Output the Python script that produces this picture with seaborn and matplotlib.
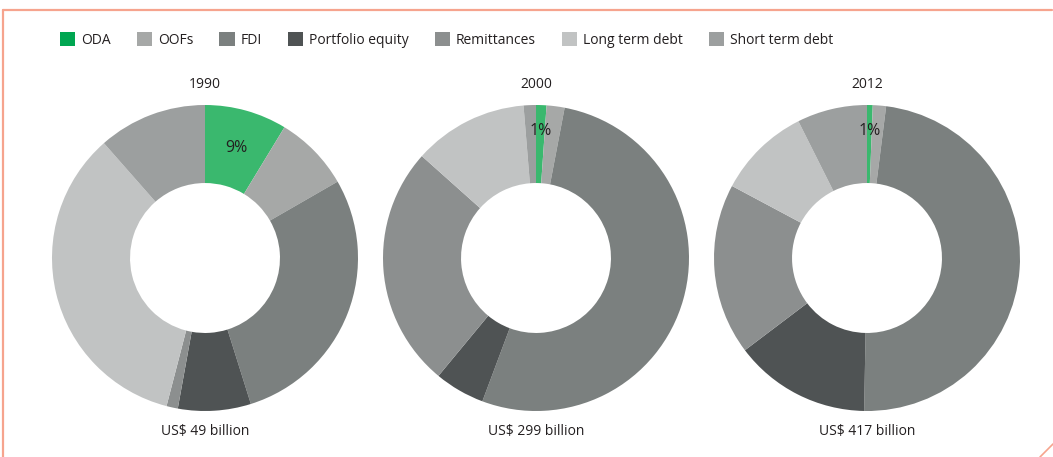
import numpy as np
import matplotlib
matplotlib.use("Agg")
import matplotlib.pyplot as plt
import seaborn as sns
from matplotlib.patches import Patch
from matplotlib.lines import Line2D

sns.set_theme(style="white")
plt.rcParams['font.family'] = ['Open Sans', 'DejaVu Sans']

categories = ["ODA", "OOFs", "FDI", "Portfolio equity", "Remittances",
              "Long term debt", "Short term debt"]
colors = ["#3ab86e", "#a6a8a7", "#7b807f", "#4f5354", "#8c8f8f", "#c1c3c3", "#9c9f9f"]
legend_colors = ["#00a651", "#a6a8a7", "#7b807f", "#4f5354", "#8c8f8f", "#c1c3c3", "#9c9f9f"]

years = ["1990", "2000", "2012"]
totals = ["US$ 49 billion", "US$ 299 billion", "US$ 417 billion"]
shares_1990 = [8.7, 8.0, 28.5, 7.7, 1.2, 34.5, 11.5]
shares_2000 = [1.1, 1.9, 52.7, 5.3, 25.6, 12.1, 1.3]
shares_2012 = [0.6, 1.4, 48.3, 14.4, 18.1, 9.8, 7.4]
oda_labels = ["9%", "1%", "1%"]
all_shares = [shares_1990, shares_2000, shares_2012]

W, H = 1053, 457
fig = plt.figure(figsize=(W / 100, H / 100), dpi=100)

centers_x = [205, 536, 867]
cy = 258
R = 153
text_color = "#231f20"

for cx, year, total, shares, lab in zip(centers_x, years, totals, all_shares, oda_labels):
    ax = fig.add_axes([(cx - R) / W, (H - cy - R) / H, 2 * R / W, 2 * R / H])
    vals = np.array(shares, dtype=float)
    wedges, _ = ax.pie(vals, colors=colors, startangle=90, counterclock=False,
                       radius=1.0, wedgeprops=dict(width=0.51, linewidth=0))
    ax.set_xlim(-1, 1)
    ax.set_ylim(-1, 1)
    ax.set_aspect("equal")
    ax.axis("off")
    # ODA label at wedge middle
    frac = vals[0] / vals.sum()
    ang = np.deg2rad(90 - 360 * frac / 2)
    r = 0.75 if frac > 0.05 else 0.83
    ax.text(r * np.cos(ang), r * np.sin(ang), lab,
            ha="center", va="center", fontsize=11.5, color=text_color)
    fig.text(cx / W, 1 - 84 / H, year, ha="center", va="center", fontsize=10, color=text_color)
    fig.text(cx / W, 1 - 432 / H, total, ha="center", va="center", fontsize=10, color=text_color)

handles = [Patch(facecolor=c, edgecolor="none") for c in legend_colors]
leg = fig.legend(handles, categories, loc="center left", bbox_to_anchor=(60 / W, 1 - 40 / H),
                 ncol=7, frameon=False, fontsize=10, handlelength=1.1, handleheight=1.1,
                 handletextpad=0.4, columnspacing=1.9, borderaxespad=0, borderpad=0)
for t in leg.get_texts():
    t.set_color(text_color)

border = "#f6a48e"
fig.add_artist(Line2D([3 / W, 1052 / W], [1 - 10 / H, 1 - 10 / H], color=border, lw=1.6,
                      transform=fig.transFigure))
fig.add_artist(Line2D([3 / W, 3 / W], [1 - 10 / H, 0], color=border, lw=1.6,
                      transform=fig.transFigure))
fig.add_artist(Line2D([1040 / W, 1053 / W], [0, 13 / H], color=border, lw=1.2,
                      transform=fig.transFigure))

fig.savefig("out.png", dpi=100, facecolor="white")
